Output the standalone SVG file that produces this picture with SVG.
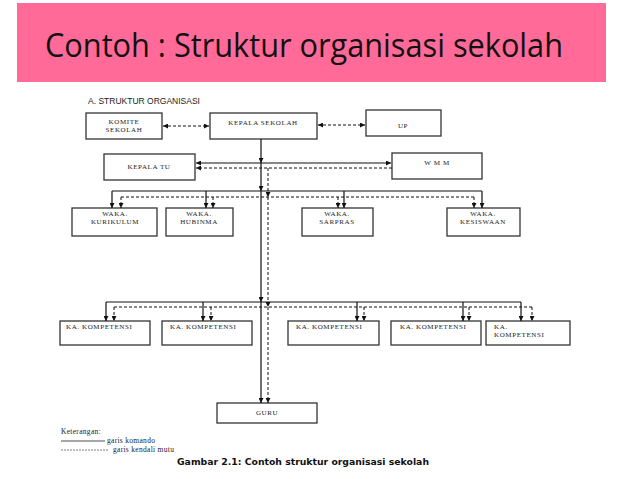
<svg xmlns="http://www.w3.org/2000/svg" width="638" height="479" viewBox="0 0 638 479">
<style>
.box{fill:#fff;stroke:#333;stroke-width:1.3}
.t{font-family:"Liberation Serif",serif;font-size:7px;fill:#222;letter-spacing:0.6px}
.l{font-family:"Liberation Serif",serif;font-size:7.5px;fill:#222;letter-spacing:0.3px}
.s{fill:none;stroke:#111;stroke-width:1.2}
.d{fill:none;stroke:#111;stroke-width:1;stroke-dasharray:3,2}
</style>
<defs>
<marker id="a" viewBox="0 0 10 10" refX="10" refY="5" markerWidth="5" markerHeight="5" orient="auto-start-reverse" markerUnits="userSpaceOnUse"><path d="M0,0L10,5L0,10z" fill="#111"/></marker>
</defs>
<rect x="0" y="0" width="638" height="479" fill="#fff"/>
<g id="banner">
<rect x="17" y="3" width="589" height="79" fill="#FF6A99"/>
<text x="45" y="57" font-family="'Open Sans','Noto Sans',sans-serif" font-size="32" fill="#111" textLength="518" lengthAdjust="spacingAndGlyphs">Contoh : Struktur organisasi sekolah</text>
</g>
<text x="88" y="104" font-family="'Liberation Sans',sans-serif" font-size="8.5" fill="#222">A. STRUKTUR ORGANISASI</text>
<g id="komite"><rect class="box" x="86" y="113" width="76" height="26"/><text class="t" x="124" y="124" text-anchor="middle">KOMITE</text><text class="t" x="124" y="131.5" text-anchor="middle">SEKOLAH</text></g>
<g id="kepsek"><rect class="box" x="210" y="113" width="107" height="26"/><text class="t" x="263" y="125" text-anchor="middle">KEPALA SEKOLAH</text></g>
<g id="up"><rect class="box" x="366" y="110" width="75" height="26"/><text class="t" x="403" y="128" text-anchor="middle">UP</text></g>
<g id="kepalatu"><rect class="box" x="104" y="154" width="91" height="26"/><text class="t" x="149" y="169" text-anchor="middle">KEPALA TU</text></g>
<g id="wmm"><rect class="box" x="392" y="153" width="90" height="26"/><text class="t" x="437" y="165" text-anchor="middle">W M M</text></g>
<g id="kurikulum"><rect class="box" x="72" y="208" width="85" height="28"/><text class="t" x="115" y="216" text-anchor="middle">WAKA.</text><text class="t" x="115" y="224" text-anchor="middle">KURIKULUM</text></g>
<g id="hubinma"><rect class="box" x="166" y="208" width="67" height="28"/><text class="t" x="199" y="216" text-anchor="middle">WAKA.</text><text class="t" x="199" y="224" text-anchor="middle">HUBINMA</text></g>
<g id="sarpras"><rect class="box" x="302" y="208" width="71" height="28"/><text class="t" x="337" y="216" text-anchor="middle">WAKA.</text><text class="t" x="337" y="224" text-anchor="middle">SARPRAS</text></g>
<g id="kesiswaan"><rect class="box" x="447" y="208" width="73" height="28"/><text class="t" x="483" y="216" text-anchor="middle">WAKA.</text><text class="t" x="483" y="224" text-anchor="middle">KESISWAAN</text></g>
<g id="komp1"><rect class="box" x="60" y="321" width="90" height="24"/><text class="t" x="66" y="329">KA. KOMPETENSI</text></g>
<g id="komp2"><rect class="box" x="162" y="321" width="90" height="24"/><text class="t" x="170" y="329">KA. KOMPETENSI</text></g>
<g id="komp3"><rect class="box" x="288" y="321" width="91" height="24"/><text class="t" x="296" y="329">KA. KOMPETENSI</text></g>
<g id="komp4"><rect class="box" x="391" y="321" width="90" height="24"/><text class="t" x="400" y="329">KA. KOMPETENSI</text></g>
<g id="komp5"><rect class="box" x="486" y="321" width="84" height="24"/><text class="t" x="494" y="329">KA.</text><text class="t" x="494" y="337">KOMPETENSI</text></g>
<g id="guru"><rect class="box" x="217" y="403" width="100" height="20"/><text class="t" x="267" y="415" text-anchor="middle">GURU</text></g>
<g id="connectors">
<line class="d" x1="163" y1="126" x2="209" y2="126" marker-start="url(#a)" marker-end="url(#a)"/>
<line class="d" x1="318" y1="125" x2="365" y2="125" marker-start="url(#a)" marker-end="url(#a)"/>
<line class="s" x1="261" y1="139" x2="261" y2="163" marker-end="url(#a)"/>
<line class="s" x1="261" y1="163" x2="261" y2="191" marker-end="url(#a)"/>
<line class="s" x1="261" y1="191" x2="261" y2="302" marker-end="url(#a)"/>
<line class="s" x1="261" y1="302" x2="261" y2="403" marker-end="url(#a)"/>
<line class="s" x1="196" y1="163" x2="391" y2="163" marker-start="url(#a)" marker-end="url(#a)"/>
<line class="d" x1="392" y1="168" x2="196" y2="168" marker-end="url(#a)"/>
<line class="d" x1="268" y1="168" x2="268" y2="197" marker-end="url(#a)"/>
<line class="d" x1="268" y1="197" x2="268" y2="307" marker-end="url(#a)"/>
<line class="d" x1="268" y1="307" x2="268" y2="403" marker-end="url(#a)"/>
<path class="s" d="M112,191H482"/>
<line class="s" x1="112" y1="191" x2="112" y2="208" marker-end="url(#a)"/>
<line class="s" x1="206" y1="191" x2="206" y2="208" marker-end="url(#a)"/>
<line class="s" x1="344" y1="191" x2="344" y2="208" marker-end="url(#a)"/>
<line class="s" x1="482" y1="191" x2="482" y2="208" marker-end="url(#a)"/>
<path class="d" d="M121,197H474"/>
<line class="d" x1="121" y1="197" x2="121" y2="208" marker-end="url(#a)"/>
<line class="d" x1="213" y1="197" x2="213" y2="208" marker-end="url(#a)"/>
<line class="d" x1="338" y1="197" x2="338" y2="208" marker-end="url(#a)"/>
<line class="d" x1="474" y1="197" x2="474" y2="208" marker-end="url(#a)"/>
<path class="s" d="M106,302H521"/>
<line class="s" x1="106" y1="302" x2="106" y2="321" marker-end="url(#a)"/>
<line class="s" x1="203" y1="302" x2="203" y2="321" marker-end="url(#a)"/>
<line class="s" x1="357" y1="302" x2="357" y2="321" marker-end="url(#a)"/>
<line class="s" x1="463" y1="302" x2="463" y2="321" marker-end="url(#a)"/>
<line class="s" x1="521" y1="302" x2="521" y2="321" marker-end="url(#a)"/>
<path class="d" d="M114,307H532"/>
<line class="d" x1="114" y1="307" x2="114" y2="321" marker-end="url(#a)"/>
<line class="d" x1="211" y1="307" x2="211" y2="321" marker-end="url(#a)"/>
<line class="d" x1="364" y1="307" x2="364" y2="321" marker-end="url(#a)"/>
<line class="d" x1="469" y1="307" x2="469" y2="321" marker-end="url(#a)"/>
<line class="d" x1="532" y1="307" x2="532" y2="321" marker-end="url(#a)"/>
</g>
<g id="legend">
<text class="l" x="61" y="434">Keterangan:</text>
<line x1="61" y1="441" x2="105" y2="441" stroke="#222" stroke-width="0.8"/>
<text class="l" x="107" y="443">garis komando</text>
<line x1="61" y1="450" x2="108" y2="450" stroke="#222" stroke-width="0.6" stroke-dasharray="2,1"/>
<text class="l" x="113" y="452">garis kendali mutu</text>
</g>
<text x="303" y="465" text-anchor="middle" font-family="'DejaVu Sans',sans-serif" font-weight="bold" font-size="8.5" fill="#111" textLength="252" lengthAdjust="spacingAndGlyphs">Gambar 2.1: Contoh struktur organisasi sekolah</text>
</svg>
